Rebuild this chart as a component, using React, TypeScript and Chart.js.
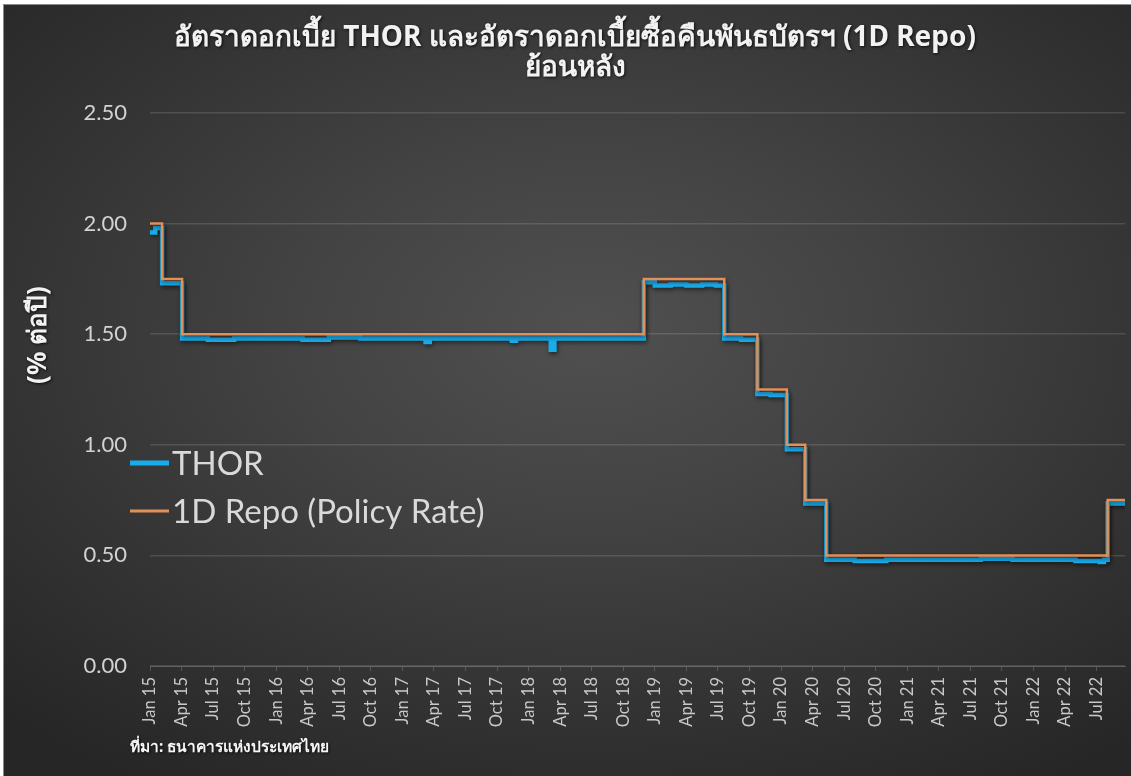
import React, { useEffect, useRef } from "react";
import { Chart, registerables } from "chart.js";

Chart.register(...registerables);

// ---- data ----
const titleLines = [
  "อัตราดอกเบี้ย THOR และอัตราดอกเบี้ยซื้อคืนพันธบัตรฯ (1D Repo)",
  "ย้อนหลัง",
];
const yAxisTitle = "(% ต่อปี)";
const sourceText = "ที่มา: ธนาคารแห่งประเทศไทย";
const seriesNames = ["THOR", "1D Repo (Policy Rate)"];

const tickLabels = [
  "Jan 15", "Apr 15", "Jul 15", "Oct 15",
  "Jan 16", "Apr 16", "Jul 16", "Oct 16",
  "Jan 17", "Apr 17", "Jul 17", "Oct 17",
  "Jan 18", "Apr 18", "Jul 18", "Oct 18",
  "Jan 19", "Apr 19", "Jul 19", "Oct 19",
  "Jan 20", "Apr 20", "Jul 20", "Oct 20",
  "Jan 21", "Apr 21", "Jul 21", "Oct 21",
  "Jan 22", "Apr 22", "Jul 22",
];
// month offset (from Jan 15) of each tick label
const tickMonths = [
  0, 3, 6, 9, 12, 15, 18, 21, 24, 27, 30, 33, 36, 39, 42, 45,
  48, 51, 54, 57, 60, 63, 66, 69, 72, 75, 78, 81, 84, 87, 90,
];
const yTicks = [0, 0.5, 1.0, 1.5, 2.0, 2.5];

// 1D Repo (policy rate): month position where a level starts, and level
const repoMonth = [0, 1.15, 3.05, 46.95, 54.6, 57.75, 60.55, 62.3, 64.3, 91.05, 92.7];
const repoRate = [2.0, 1.75, 1.5, 1.75, 1.5, 1.25, 1.0, 0.75, 0.5, 0.75, 0.75];

// THOR: month position and value
const thorMonth = [
  0, 0.5, 1.15, 3.05, 5.5, 8, 11, 14.5, 17, 20, 23.5, 26.2, 26.6, 29, 32,
  34.4, 34.8, 38.1, 38.45, 41, 44, 46.95, 48, 49.5, 51, 52.5, 53.8, 54.6,
  56.2, 57.75, 59, 60.55, 62.3, 64.3, 67, 70, 73, 76, 79, 82, 85, 88,
  90.3, 90.7, 91.05, 92.7,
];
const thorRate = [
  1.96, 1.98, 1.73, 1.48, 1.475, 1.48, 1.48, 1.475, 1.485, 1.48, 1.48, 1.465,
  1.48, 1.48, 1.48, 1.47, 1.48, 1.43, 1.48, 1.48, 1.48, 1.735, 1.72, 1.725,
  1.72, 1.725, 1.72, 1.48, 1.475, 1.23, 1.225, 0.98, 0.735, 0.48, 0.475,
  0.48, 0.48, 0.48, 0.485, 0.48, 0.48, 0.475, 0.47, 0.48, 0.735, 0.735,
];

const THOR_COLOR = "#19aceb";
const REPO_COLOR = "#e39058";
const FONT = 'Lato, "Open Sans", sans-serif';
const THAI_FONT = 'Tahoma, "Noto Sans", "DejaVu Sans", sans-serif';

const W = 1127;
const H = 771;

const shadowPlugin = {
  id: "lineShadow",
  beforeDatasetsDraw(chart: any) {
    const ctx = chart.ctx;
    ctx.save();
    ctx.shadowColor = "rgba(0,0,0,0.55)";
    ctx.shadowBlur = 4;
    ctx.shadowOffsetX = 1;
    ctx.shadowOffsetY = 2;
  },
  afterDatasetsDraw(chart: any) {
    chart.ctx.restore();
  },
};

const textPlugin = {
  id: "texts",
  afterDraw(chart: any) {
    const ctx = chart.ctx as CanvasRenderingContext2D;
    ctx.save();
    // Title
    ctx.fillStyle = "#f2f2f2";
    ctx.shadowColor = "rgba(0,0,0,0.75)";
    ctx.shadowBlur = 3;
    ctx.shadowOffsetX = 1;
    ctx.shadowOffsetY = 1;
    ctx.font = `bold 28px ${THAI_FONT}`;
    ctx.textAlign = "center";
    ctx.textBaseline = "middle";
    titleLines.forEach((l, i) => ctx.fillText(l, 571, 33 + i * 30));

    // Y axis title
    ctx.save();
    ctx.translate(35, 330);
    ctx.rotate(-Math.PI / 2);
    ctx.font = `bold 26px ${THAI_FONT}`;
    ctx.fillText(yAxisTitle, 0, 0);
    ctx.restore();

    // Source
    ctx.textAlign = "left";
    ctx.font = `bold 15.5px ${THAI_FONT}`;
    ctx.fillStyle = "#f5f5f5";
    ctx.fillText(sourceText, 126, 743);

    // Legend
    ctx.shadowColor = "transparent";
    const legendY = [458, 506];
    chart.data.datasets.forEach((ds: any, i: number) => {
      ctx.strokeStyle = ds.borderColor;
      ctx.lineWidth = i === 0 ? 5 : 3;
      ctx.beginPath();
      ctx.moveTo(126, legendY[i]);
      ctx.lineTo(165, legendY[i]);
      ctx.stroke();
      ctx.fillStyle = "#d9d9d9";
      ctx.font = `33px ${FONT}`;
      ctx.textAlign = "left";
      ctx.textBaseline = "middle";
      ctx.fillText(ds.label, 168, legendY[i] + 1);
    });
    ctx.restore();
  },
};

export default function App() {
  const ref = useRef<HTMLCanvasElement | null>(null);

  useEffect(() => {
    if (!ref.current) return;
    const chart = new Chart(ref.current, {
      type: "line",
      data: {
        datasets: [
          {
            label: seriesNames[0],
            data: thorMonth.map((m, i) => ({ x: m, y: thorRate[i] })),
            borderColor: THOR_COLOR,
            backgroundColor: THOR_COLOR,
            borderWidth: 4.5,
            stepped: true,
            pointRadius: 0,
            order: 2,
          },
          {
            label: seriesNames[1],
            data: repoMonth.map((m, i) => ({ x: m, y: repoRate[i] })),
            borderColor: REPO_COLOR,
            backgroundColor: REPO_COLOR,
            borderWidth: 2.5,
            stepped: true,
            pointRadius: 0,
            order: 1,
          },
        ],
      },
      options: {
        animation: false,
        responsive: false,
        layout: { padding: { left: 0, right: 6, top: 108, bottom: 0 } },
        plugins: {
          legend: { display: false },
          title: { display: false },
          tooltip: { enabled: false },
        },
        scales: {
          x: {
            type: "linear",
            min: 0,
            max: 92.7,
            afterFit: (s: any) => {
              s.height = 110;
            },
            afterBuildTicks: (s: any) => {
              s.ticks = tickMonths.map((v) => ({ value: v }));
            },
            ticks: {
              autoSkip: false,
              maxRotation: 90,
              minRotation: 90,
              padding: 6,
              color: "#c8c8c8",
              font: { family: FONT, size: 16.5 },
              callback: (v: any) => {
                const idx = tickMonths.indexOf(Number(v));
                return idx >= 0 ? tickLabels[idx] : "";
              },
            },
            grid: {
              drawOnChartArea: false,
              drawTicks: true,
              tickLength: 5,
              color: "rgba(255,255,255,0.18)",
            },
            border: { display: true, color: "rgba(255,255,255,0.2)" },
          },
          y: {
            min: 0,
            max: 2.5,
            afterFit: (s: any) => {
              s.width = 146;
            },
            afterBuildTicks: (s: any) => {
              s.ticks = yTicks.map((v) => ({ value: v }));
            },
            ticks: {
              padding: 23,
              color: "#d2d2d2",
              font: { family: FONT, size: 22 },
              callback: (v: any) => Number(v).toFixed(2),
            },
            grid: {
              drawTicks: false,
              color: "rgba(255,255,255,0.13)",
              lineWidth: 1.5,
            },
            border: { display: false },
          },
        },
      },
      plugins: [shadowPlugin, textPlugin],
    });
    return () => chart.destroy();
  }, []);

  return (
    <div
      style={{
        position: "fixed",
        top: 4,
        left: 3,
        width: W + 1,
        height: H + 1,
        boxSizing: "border-box",
        borderTop: "1px solid #8a8a8a",
        borderLeft: "1px solid #8a8a8a",
        background:
          "radial-gradient(ellipse 75% 70% at 52% 42%, #505050 0%, #434343 35%, #333333 70%, #262626 100%)",
      }}
    >
      <canvas ref={ref} width={W} height={H} style={{ display: "block" }} />
    </div>
  );
}
